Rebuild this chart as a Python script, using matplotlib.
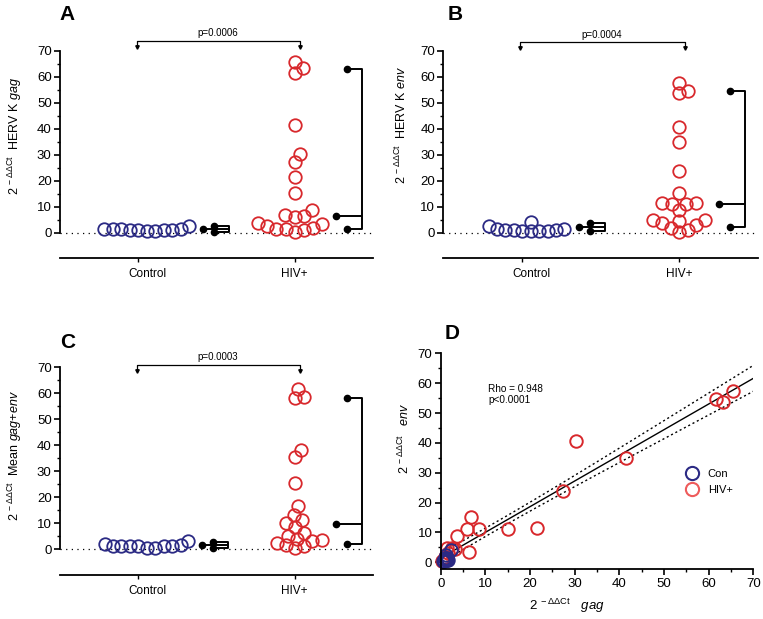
import numpy as np
import matplotlib.pyplot as plt
from matplotlib.lines import Line2D

plt.rcParams['font.family'] = 'Liberation Sans'
plt.rcParams['mathtext.fontset'] = 'custom'
plt.rcParams['mathtext.rm'] = 'Liberation Sans'
plt.rcParams['mathtext.it'] = 'Liberation Sans:italic'
plt.rcParams['mathtext.bf'] = 'Liberation Sans:bold'

########################################
# data

groups = ['Control', 'HIV+']

con_gag = [0.5, 1.4, 1.0, 1.6, 2.4, 1.3, 1.5, 0.9, 1.2, 0.7, 1.1]
con_env = [0.6, 1.0, 1.4, 0.8, 4.2, 1.5, 0.7, 1.2, 0.9, 0.5, 2.6]

hiv_gag = [65.5, 63.3, 61.6, 41.5, 30.4, 27.3, 21.6, 15.1, 8.6, 6.8,
           6.0, 3.6, 6.4, 3.2, 2.5, 1.3, 1.7, 1.0, 1.3, 0.2]
hiv_env = [57.5, 53.8, 54.6, 34.8, 40.7, 23.9, 11.6, 11.3, 11.1, 15.3,
           11.1, 8.8, 3.6, 4.4, 4.7, 4.7, 3.0, 1.9, 1.0, 0.3]

con_mean = list((np.array(con_gag) + np.array(con_env)) / 2)
hiv_mean = list((np.array(hiv_gag) + np.array(hiv_env)) / 2)

# median, lower, upper marks next to each group
summ_gag_con = [1.3, 0.4, 2.6]
summ_gag_hiv = [6.5, 1.5, 63.0]
summ_env_con = [2.3, 0.8, 3.6]
summ_env_hiv = [11.0, 2.2, 54.5]
summ_mean_con = [1.5, 0.6, 2.8]
summ_mean_hiv = [9.8, 1.8, 58.2]

p_texts = ['p=0.0006', 'p=0.0004', 'p=0.0003']
rho_text = 'Rho = 0.948\np<0.0001'

########################################

blue = '#2b2a84'
red = '#d8282c'
red_light = '#ee5b5b'

W, H = 763, 619
fig = plt.figure(figsize=(W / 100, H / 100), dpi=100)


def pos(l, t, r, b):
    return [l / W, 1 - b / H, (r - l) / W, (b - t) / H]


def fx(px):
    return px / W


def fy(py):
    return 1 - py / H


def swarm(ax, xc, vals, dmin=8.5):
    # simple beeswarm in pixel space
    vals = np.asarray(vals, dtype=float)
    pts = ax.transData.transform(np.column_stack([np.full(len(vals), xc), vals]))
    x0 = pts[0, 0]
    ys = pts[:, 1]
    placed = []
    offs = np.zeros(len(vals))
    for i in np.argsort(vals, kind='stable'):
        y = ys[i]
        cands = [0.0]
        for px, py in placed:
            dy = y - py
            if abs(dy) < dmin:
                dx = np.sqrt(dmin ** 2 - dy ** 2)
                cands += [px + dx, px - dx]
        cands.sort(key=lambda c: (abs(c), -c))
        for c in cands:
            if all((c - px) ** 2 + (y - py) ** 2 >= dmin ** 2 - 1e-6 for px, py in placed):
                break
        placed.append((c, y))
        offs[i] = c
    back = ax.transData.inverted().transform(np.column_stack([x0 + offs, ys]))
    return back[:, 0], x0 + offs.max()


def summary(ax, right_px, summ):
    med, lo, hi = summ
    inv = ax.transData.inverted()
    xm = inv.transform((right_px + 8, 0))[0]
    xr = inv.transform((right_px + 19, 0))[0]
    xv = inv.transform((right_px + 34, 0))[0]
    kw = dict(color='k', lw=1.4, clip_on=False, solid_capstyle='butt')
    ax.plot([xr, xv, xv, xr], [hi, hi, lo, lo], **kw)
    ax.plot([xm, xv], [med, med], **kw)
    ax.plot([xm, xr, xr], [med, hi, lo], 'o', color='k', ms=4.5, clip_on=False)


def dot_panel(ax, con, hiv, s_con, s_hiv, ptxt, ybr, ylow):
    ax.set_xlim(0.5, 2.5)
    ax.set_ylim(ylow, 70)
    for s in ['top', 'right']:
        ax.spines[s].set_visible(False)
    ax.spines['left'].set_bounds(0, 70)
    ax.spines['left'].set_linewidth(1.3)
    ax.spines['bottom'].set_linewidth(1.3)
    ax.set_yticks(np.arange(0, 71, 10))
    ax.set_yticks(np.arange(5, 70, 10), minor=True)
    ax.tick_params(axis='y', which='major', length=4, width=1.2, labelsize=9.5, pad=2)
    ax.tick_params(axis='y', which='minor', length=2.5, width=1.0)
    ax.set_xticks([1, 2])
    ax.set_xticklabels([])
    ax.tick_params(axis='x', length=3, width=1.0)
    ax.axhline(0, color='k', ls=(0, (1, 3.5)), lw=0.9, zorder=0)

    for vals, xc, col, summ, dmin in [(con, 1.055, blue, s_con, 8.5),
                                      (hiv, 2.0, red, s_hiv, 9.5)]:
        xs, right = swarm(ax, xc, vals, dmin)
        ax.plot(xs, vals, 'o', ms=9, mfc='none', mec=col, mew=1.3, clip_on=False)
        summary(ax, right + 6.3, summ)

    ax.text(1.06, ylow - 6.1, groups[0], ha='center', va='center', fontsize=8.5)
    ax.text(2.0, ylow - 6.1, groups[1], ha='center', va='center', fontsize=8.5)

    ytop, ytip = ybr, ybr - 2.3
    ax.plot([0.99, 0.99, 2.035, 2.035], [ytip, ytop, ytop, ytip], color='k', lw=0.9,
            clip_on=False)
    ax.plot([0.99, 2.035], [ytip, ytip], 'v', color='k', ms=2.5, clip_on=False)
    ax.text(1.506, ytop + 3.0, ptxt, ha='center', va='center', fontsize=7)


axA = fig.add_axes(pos(60, 50.7, 373, 258.3))
dot_panel(axA, con_gag, hiv_gag, summ_gag_con, summ_gag_hiv, p_texts[0], 73.8, -9.85)

axB = fig.add_axes(pos(443.3, 50.7, 757.7, 258.3))
dot_panel(axB, con_env, hiv_env, summ_env_con, summ_env_hiv, p_texts[1], 73.2, -9.85)

axC = fig.add_axes(pos(60, 367.3, 373, 575.3))
dot_panel(axC, con_mean, hiv_mean, summ_mean_con, summ_mean_hiv, p_texts[2], 70.8, -10.1)

########################################
# panel D: env vs gag

axD = fig.add_axes(pos(440.7, 353.3, 753.3, 569.3))
axD.set_xlim(0, 70)
axD.set_ylim(-2.34, 70)
for s in ['top', 'right']:
    axD.spines[s].set_visible(False)
for s in ['left', 'bottom']:
    axD.spines[s].set_linewidth(1.3)
axD.set_xticks(np.arange(0, 71, 10))
axD.set_xticks(np.arange(5, 70, 10), minor=True)
axD.set_yticks(np.arange(0, 71, 10))
axD.set_yticks(np.arange(5, 70, 10), minor=True)
axD.tick_params(which='major', length=4, width=1.2, labelsize=9.5, pad=2)
axD.tick_params(which='minor', length=2.5, width=1.0)

all_x = np.array(con_gag + hiv_gag)
all_y = np.array(con_env + hiv_env)
slope, icpt = np.polyfit(all_x, all_y, 1)
n = len(all_x)
resid = all_y - (slope * all_x + icpt)
s_err = np.sqrt((resid ** 2).sum() / (n - 2))
mx = all_x.mean()
sxx = ((all_x - mx) ** 2).sum()
xx = np.linspace(all_x.min(), 70, 200)
yy = slope * xx + icpt
half = 2.045 * s_err * np.sqrt(1 / n + (xx - mx) ** 2 / sxx)
axD.plot(xx, yy, color='k', lw=1.0)
axD.plot(xx, yy + half, color='k', lw=1.0, ls=(0, (1.5, 2)))
axD.plot(xx, yy - half, color='k', lw=1.0, ls=(0, (1.5, 2)))

axD.plot(hiv_gag, hiv_env, 'o', ms=9, mfc='none', mec=red, mew=1.4, clip_on=False)
axD.plot(con_gag, con_env, 'o', ms=9, mfc='none', mec=blue, mew=1.4, clip_on=False)

axD.text(fx(488), fy(384), rho_text, transform=fig.transFigure, fontsize=7.2,
         ha='left', va='top', linespacing=1.15)

handles = [Line2D([], [], marker='o', ls='', ms=9.5, mfc='none', mec=blue, mew=1.5),
           Line2D([], [], marker='o', ls='', ms=9.5, mfc='none', mec=red_light, mew=1.5)]
axD.legend(handles, ['Con', 'HIV+'], loc='center left', bbox_to_anchor=(fx(685), fy(482)),
           bbox_transform=fig.transFigure, frameon=False, fontsize=8, handlelength=1.2,
           handletextpad=0.85, labelspacing=0.6, borderpad=0, borderaxespad=0)

########################################
# labels

sup = r'$2^{\ -\Delta\Delta\mathrm{Ct}}$'
fig.text(fx(15), fy(136), sup + r'  HERV K $\mathit{gag}$', rotation=90,
         ha='center', va='center', fontsize=9)
fig.text(fx(401.7), fy(125), sup + r'  HERV K $\mathit{env}$', rotation=90,
         ha='center', va='center', fontsize=9)
fig.text(fx(15), fy(456), sup + r'  Mean $\mathit{gag}$+$\mathit{env}$', rotation=90,
         ha='center', va='center', fontsize=9)
fig.text(fx(404), fy(438), sup + r'   $\mathit{env}$', rotation=90,
         ha='center', va='center', fontsize=9)
fig.text(fx(567), fy(606), sup + r'   $\mathit{gag}$', ha='center', va='center', fontsize=9.5)

for letter, x, y in [('A', 66.7, 14), ('B', 455, 15), ('C', 68, 342.7), ('D', 451.7, 333.3)]:
    fig.text(fx(x), fy(y), letter, fontsize=15, fontweight='bold', ha='center', va='center')

fig.savefig('out.png', dpi=100)
